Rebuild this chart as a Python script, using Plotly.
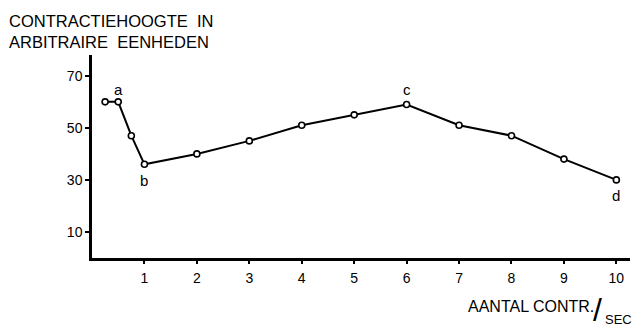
import plotly.graph_objects as go

# Data
freq = [0.25, 0.5, 0.75, 1, 2, 3, 4, 5, 6, 7, 8, 9, 10]
height = [60, 60, 47, 36, 40, 45, 51, 55, 59, 51, 47, 38, 30]
x_ticks = [1, 2, 3, 4, 5, 6, 7, 8, 9, 10]
y_ticks = [10, 30, 50, 70]
point_labels = ["a", "b", "c", "d"]
label_x = [0.51, 1.0, 6.0, 10.0]
label_y = [64.7, 29.7, 64.7, 24.2]

FONT = "Liberation Sans"
W, H = 632, 328
ML, MR, MT, MB = 92, 2, 55, 70
PW = W - ML - MR
PH = H - MT - MB

fig = go.Figure()
fig.add_trace(go.Scatter(
    x=freq, y=height, mode="lines+markers",
    line=dict(color="black", width=2),
    marker=dict(symbol="circle", size=6, color="white",
                line=dict(color="black", width=1.6)),
    showlegend=False, hoverinfo="x+y",
))

for t, lx, ly in zip(point_labels, label_x, label_y):
    fig.add_annotation(x=lx, y=ly, xref="x", yref="y", text=t, showarrow=False,
                       font=dict(family=FONT, size=15, color="black"))


def px_ann(text, px, py, size, xanchor="left"):
    fig.add_annotation(x=(px - ML) / PW, y=(H - MB - py) / PH, xref="paper", yref="paper",
                       xanchor=xanchor, yanchor="middle", text=text, showarrow=False,
                       font=dict(family=FONT, size=size, color="black"))


px_ann("CONTRACTIEHOOGTE  IN", 7, 21, 16.5)
px_ann("ARBITRAIRE  EENHEDEN", 7, 42, 16.5)
px_ann("AANTAL CONTR.", 466, 306, 16)
px_ann("/", 591, 310, 32)
px_ann("SEC", 603, 319, 13)

fig.update_layout(
    width=W, height=H,
    margin=dict(l=ML, r=MR, t=MT, b=MB),
    paper_bgcolor="white", plot_bgcolor="white",
    font=dict(family=FONT, size=14, color="black"),
    xaxis=dict(range=[0, 10.26], tickmode="array", tickvals=x_ticks,
               ticktext=[str(v) for v in x_ticks],
               showline=True, linecolor="black", linewidth=2.5,
               ticks="outside", ticklen=3, tickwidth=2, tickcolor="black",
               showgrid=False, zeroline=False,
               tickfont=dict(family=FONT, size=14, color="black"),
               ticklabelstandoff=2),
    yaxis=dict(range=[0, 78], tickmode="array", tickvals=y_ticks,
               ticktext=[str(v) for v in y_ticks],
               showline=True, linecolor="black", linewidth=2.5,
               ticks="outside", ticklen=4, tickwidth=2, tickcolor="black",
               showgrid=False, zeroline=False,
               tickfont=dict(family=FONT, size=14, color="black"),
               ticklabelstandoff=0),
)

fig.write_html("out.html", config={"displayModeBar": False},
               post_script="document.body.style.margin='0';document.body.style.overflow='hidden';")
